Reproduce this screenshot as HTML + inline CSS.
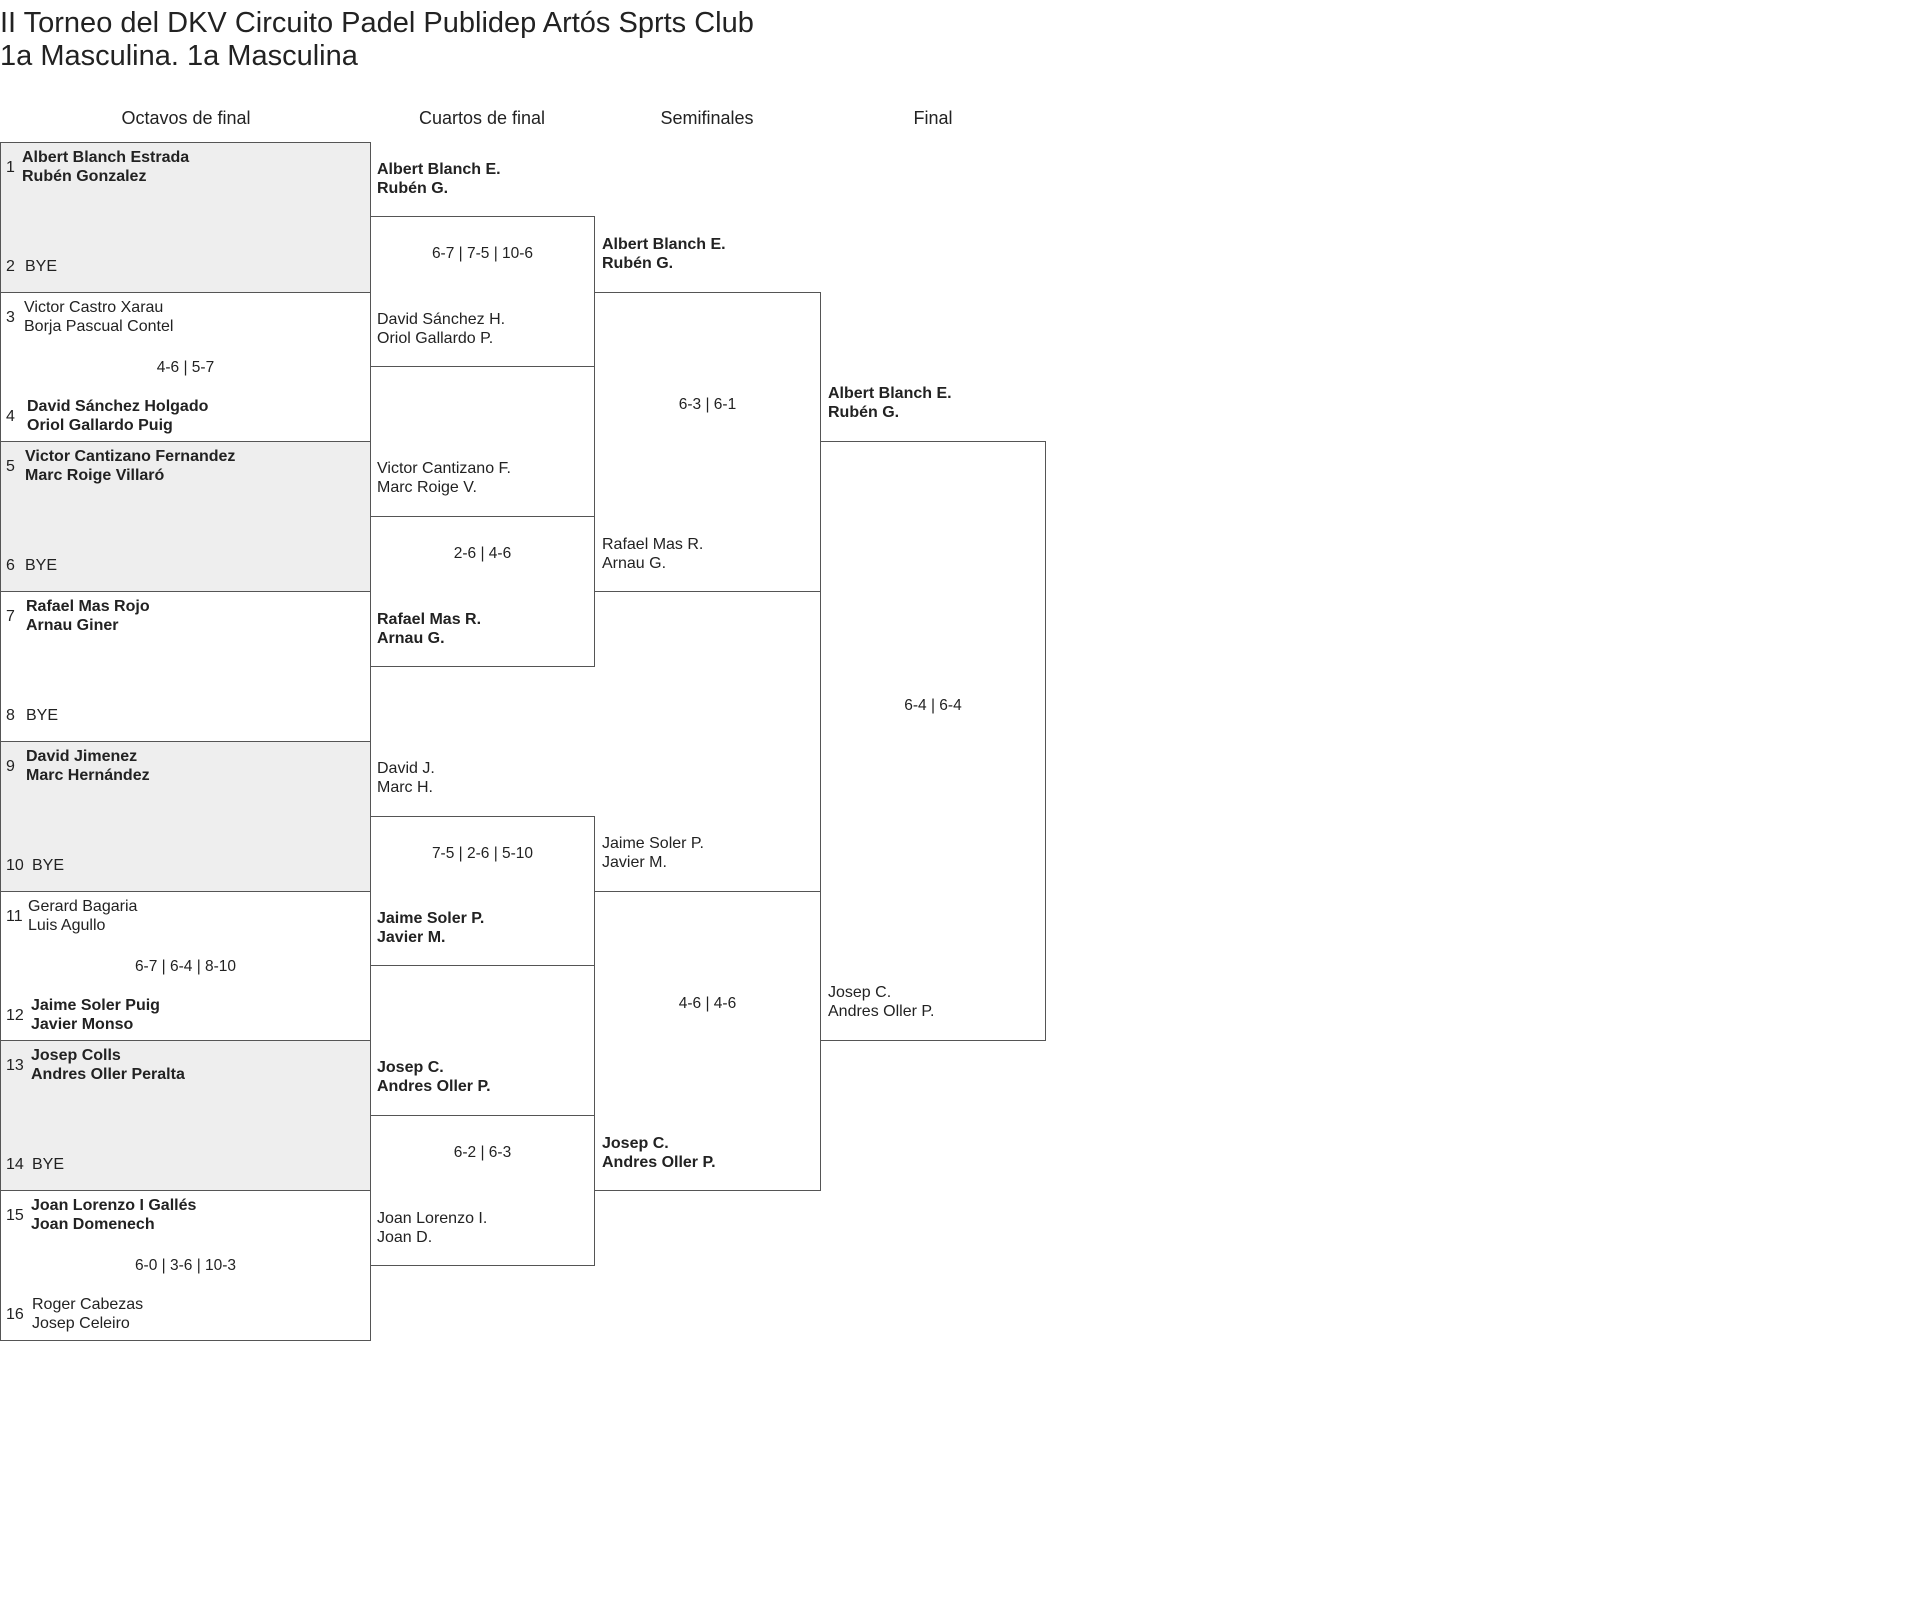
<!DOCTYPE html>
<html><head><meta charset="utf-8"><style>
body{margin:0;width:1920px;height:1624px;background:#fff;position:relative;font-family:"Liberation Sans",sans-serif;color:#222;overflow:hidden}
.a{position:absolute}
.box{position:absolute;box-sizing:border-box;border:1px solid #555}
.g{background:#eee}
.t{position:absolute;font-size:16px;line-height:19px;white-space:nowrap}
.b{font-weight:bold}
.h{position:absolute;font-size:18px;top:108px;text-align:center;width:240px}
.s{position:absolute;font-size:15.5px;line-height:19px;text-align:center;left:0;right:0}
</style></head><body>
<div class="a" style="left:0;top:7px;font-size:29px;line-height:33px;white-space:nowrap">II Torneo del DKV Circuito Padel Publidep Artós Sprts Club<br>1a Masculina. 1a Masculina</div>
<div class="h" style="left:66px">Octavos de final</div>
<div class="h" style="left:362px">Cuartos de final</div>
<div class="h" style="left:587px">Semifinales</div>
<div class="h" style="left:813px">Final</div>

<!-- Round 1 -->
<div class="box g" style="left:0;top:142px;width:371px;height:151px">
<div class="t" style="left:5px;top:15px">1</div><div class="t b" style="left:21px;top:5px">Albert Blanch Estrada<br>Rubén Gonzalez</div>
<div class="t" style="left:5px;top:114px">2</div><div class="t" style="left:24px;top:114px">BYE</div></div>
<div class="box" style="left:0;top:292px;width:371px;height:150px">
<div class="t" style="left:5px;top:15px">3</div><div class="t" style="left:23px;top:5px">Victor Castro Xarau<br>Borja Pascual Contel</div>
<div class="s" style="top:65px">4-6 | 5-7</div>
<div class="t" style="left:5px;top:114px">4</div><div class="t b" style="left:26px;top:104px">David Sánchez Holgado<br>Oriol Gallardo Puig</div></div>
<div class="box g" style="left:0;top:441px;width:371px;height:151px">
<div class="t" style="left:5px;top:15px">5</div><div class="t b" style="left:24px;top:5px">Victor Cantizano Fernandez<br>Marc Roige Villaró</div>
<div class="t" style="left:5px;top:114px">6</div><div class="t" style="left:24px;top:114px">BYE</div></div>
<div class="box" style="left:0;top:591px;width:371px;height:151px">
<div class="t" style="left:5px;top:15px">7</div><div class="t b" style="left:25px;top:5px">Rafael Mas Rojo<br>Arnau Giner</div>
<div class="t" style="left:5px;top:114px">8</div><div class="t" style="left:25px;top:114px">BYE</div></div>
<div class="box g" style="left:0;top:741px;width:371px;height:151px">
<div class="t" style="left:5px;top:15px">9</div><div class="t b" style="left:25px;top:5px">David Jimenez<br>Marc Hernández</div>
<div class="t" style="left:5px;top:114px">10</div><div class="t" style="left:31px;top:114px">BYE</div></div>
<div class="box" style="left:0;top:891px;width:371px;height:150px">
<div class="t" style="left:5px;top:15px">11</div><div class="t" style="left:27px;top:5px">Gerard Bagaria<br>Luis Agullo</div>
<div class="s" style="top:65px">6-7 | 6-4 | 8-10</div>
<div class="t" style="left:5px;top:114px">12</div><div class="t b" style="left:30px;top:104px">Jaime Soler Puig<br>Javier Monso</div></div>
<div class="box g" style="left:0;top:1040px;width:371px;height:151px">
<div class="t" style="left:5px;top:15px">13</div><div class="t b" style="left:30px;top:5px">Josep Colls<br>Andres Oller Peralta</div>
<div class="t" style="left:5px;top:114px">14</div><div class="t" style="left:31px;top:114px">BYE</div></div>
<div class="box" style="left:0;top:1190px;width:371px;height:151px">
<div class="t" style="left:5px;top:15px">15</div><div class="t b" style="left:30px;top:5px">Joan Lorenzo I Gallés<br>Joan Domenech</div>
<div class="s" style="top:65px">6-0 | 3-6 | 10-3</div>
<div class="t" style="left:5px;top:114px">16</div><div class="t" style="left:31px;top:104px">Roger Cabezas<br>Josep Celeiro</div></div>

<!-- Round 2 -->
<div class="box" style="left:370px;top:216px;width:225px;height:151px"><div class="s" style="top:27px">6-7 | 7-5 | 10-6</div></div>
<div class="t b" style="left:377px;top:160px">Albert Blanch E.<br>Rubén G.</div>
<div class="t" style="left:377px;top:310px">David Sánchez H.<br>Oriol Gallardo P.</div>
<div class="box" style="left:370px;top:516px;width:225px;height:151px"><div class="s" style="top:27px">2-6 | 4-6</div></div>
<div class="t" style="left:377px;top:459px">Victor Cantizano F.<br>Marc Roige V.</div>
<div class="t b" style="left:377px;top:610px">Rafael Mas R.<br>Arnau G.</div>
<div class="box" style="left:370px;top:816px;width:225px;height:150px"><div class="s" style="top:27px">7-5 | 2-6 | 5-10</div></div>
<div class="t" style="left:377px;top:759px">David J.<br>Marc H.</div>
<div class="t b" style="left:377px;top:909px">Jaime Soler P.<br>Javier M.</div>
<div class="box" style="left:370px;top:1115px;width:225px;height:151px"><div class="s" style="top:27px">6-2 | 6-3</div></div>
<div class="t b" style="left:377px;top:1058px">Josep C.<br>Andres Oller P.</div>
<div class="t" style="left:377px;top:1209px">Joan Lorenzo I.<br>Joan D.</div>

<!-- Round 3 -->
<div class="box" style="left:594px;top:292px;width:227px;height:300px"><div class="s" style="top:102px">6-3 | 6-1</div></div>
<div class="t b" style="left:602px;top:235px">Albert Blanch E.<br>Rubén G.</div>
<div class="t" style="left:602px;top:535px">Rafael Mas R.<br>Arnau G.</div>
<div class="box" style="left:594px;top:891px;width:227px;height:300px"><div class="s" style="top:102px">4-6 | 4-6</div></div>
<div class="t" style="left:602px;top:834px">Jaime Soler P.<br>Javier M.</div>
<div class="t b" style="left:602px;top:1134px">Josep C.<br>Andres Oller P.</div>

<!-- Final -->
<div class="box" style="left:820px;top:441px;width:226px;height:600px"><div class="s" style="top:254px">6-4 | 6-4</div></div>
<div class="t b" style="left:828px;top:384px">Albert Blanch E.<br>Rubén G.</div>
<div class="t" style="left:828px;top:983px">Josep C.<br>Andres Oller P.</div>
</body></html>
